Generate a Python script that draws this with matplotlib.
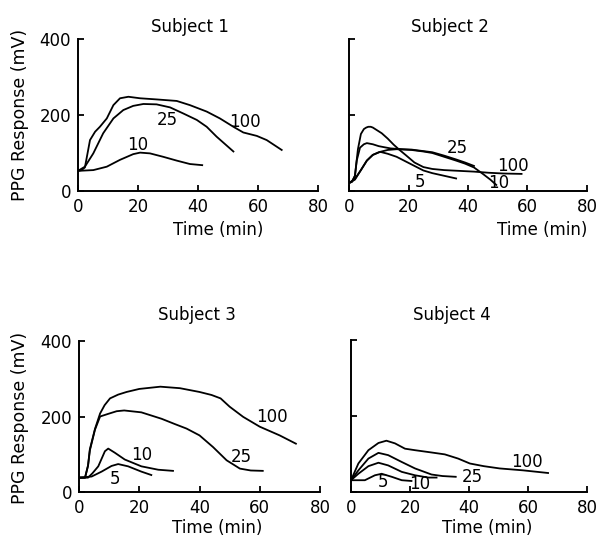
#!/usr/bin/env python3
# ******************************************************************************
# plot.py
# ******************************************************************************

# Purpose:
# PPG response against time for four subjects, one curve per dose.


# ******************************************************************************
# Import packages
# ******************************************************************************
import matplotlib
matplotlib.use('Agg')
import matplotlib.pyplot as plt


# ******************************************************************************
# Data
# ******************************************************************************
# ------------------------------------------------------------------------------
# Subject 1
# ------------------------------------------------------------------------------
s1_100_t = [0, 1.2, 2.3, 3.2, 4, 5.7, 7.3, 9.6, 11.8, 14, 16.8, 20.7, 26.2,
            32.9, 37.3, 42.9, 47.3, 51.8, 55.1, 59.6, 62.9, 67.9]
s1_100_v = [53, 55, 62, 100, 134, 156, 169, 191, 226, 244, 248, 244, 241,
            237, 226, 209, 191, 169, 154, 145, 134, 108]
s1_25_t = [0, 2.3, 5.1, 8.4, 11.8, 15.1, 18.4, 21.8, 26.2, 30.7, 35.1, 39.6,
           42.9, 46.2, 51.8]
s1_25_v = [53, 64, 99, 152, 191, 213, 224, 229, 228, 220, 204, 187, 169, 143,
           104]
s1_10_t = [0, 5.1, 9.6, 14, 18.4, 20.7, 24, 28.4, 32.9, 37.3, 41.4]
s1_10_v = [53, 55, 64, 82, 97, 101, 99, 90, 80, 71, 68]

# ------------------------------------------------------------------------------
# Subject 2
# ------------------------------------------------------------------------------
s2_100_t = [0, 1, 2, 3, 4, 5, 5.8, 6.5, 7.3, 8, 11, 13, 15, 17, 19, 22, 25,
            28, 32, 37, 42, 47, 52, 58]
s2_100_v = [21, 25, 40, 110, 150, 163, 167, 169, 169, 167, 152, 138, 122, 108,
            95, 75, 63, 58, 55, 53, 51, 48, 46, 45]
s2_25_t = [0, 1, 2, 2.6, 3.7, 5, 6, 8, 10, 14, 18, 21, 25, 28, 32, 36, 39, 42]
s2_25_v = [21, 24, 40, 80, 114, 123, 126, 123, 118, 112, 110, 109, 105, 102,
           93, 83, 75, 66]
s2_10_t = [0, 2, 4, 6, 8, 10, 13, 16, 21, 25, 28, 32, 36, 39, 42, 45, 47.5,
           49.5]
s2_10_v = [21, 30, 55, 80, 95, 102, 108, 110, 108, 104, 100, 90, 80, 72, 62, 45,
           30, 16]
s2_5_t = [0, 2, 4, 6, 8, 10.5, 13, 16, 19, 22, 25, 28, 32, 36]
s2_5_v = [21, 32, 55, 80, 95, 103, 98, 90, 78, 66, 54, 47, 40, 33]

# ------------------------------------------------------------------------------
# Subject 3
# ------------------------------------------------------------------------------
s3_100_t = [0, 2, 3, 3.6, 5.3, 7, 8.5, 10.3, 13, 15.8, 20, 27, 33.5, 40, 44,
            47, 50, 54.5, 60, 66.6, 72]
s3_100_v = [38, 38, 70, 113, 167, 208, 230, 248, 258, 265, 273, 279, 275, 265,
            257, 248, 226, 199, 173, 150, 128]
s3_25_t = [0, 2, 3, 3.6, 5.3, 7, 9.7, 12.5, 15, 20.7, 27.4, 31.8, 35.7, 40,
           44.5, 49, 53.4, 57, 61]
s3_25_v = [38, 38, 70, 110, 165, 200, 207, 214, 216, 211, 194, 180, 168, 150,
           119, 84, 62, 57, 56]
s3_10_t = [0, 3, 4.5, 6.4, 8.6, 9.7, 11.9, 15.2, 20.7, 26.3, 31.2]
s3_10_v = [38, 38, 50, 68, 108, 115, 104, 86, 68, 59, 56]
s3_5_t = [0, 4.2, 7.5, 10.8, 13, 16.3, 20.7, 24]
s3_5_v = [38, 41, 54, 69, 74, 68, 54, 45]

# ------------------------------------------------------------------------------
# Subject 4
# ------------------------------------------------------------------------------
s4_100_t = [0, 2.5, 5.9, 9.3, 12, 14.9, 18.3, 21.7, 27.3, 31.8, 36.3, 40.3, 45,
            50.4, 58.3, 66.8]
s4_100_v = [31, 75, 110, 129, 135, 128, 114, 110, 104, 99, 88, 75, 68, 62, 57,
            50]
s4_25_t = [0, 2.5, 5.9, 9.3, 12.6, 17.2, 21.7, 27.3, 31, 35.5]
s4_25_v = [31, 57, 88, 103, 97, 79, 62, 46, 42, 40]
s4_10_t = [0, 2.5, 5.9, 9.3, 12.6, 17.2, 21.7, 26.2, 29]
s4_10_v = [31, 48, 68, 77, 70, 53, 44, 38, 38]
s4_5_t = [0, 4.7, 8.1, 10.4, 13.8, 17.2, 20.5]
s4_5_v = [31, 31, 44, 48, 40, 31, 29]

titles = ['Subject 1', 'Subject 2', 'Subject 3', 'Subject 4']
x_ticks = [0, 20, 40, 60, 80]
y_ticks = [0, 200, 400]


# ******************************************************************************
# Curves and dose labels for each panel
# ******************************************************************************
panels = [
    [(s1_100_t, s1_100_v), (s1_25_t, s1_25_v), (s1_10_t, s1_10_v)],
    [(s2_100_t, s2_100_v), (s2_25_t, s2_25_v), (s2_10_t, s2_10_v),
     (s2_5_t, s2_5_v)],
    [(s3_100_t, s3_100_v), (s3_25_t, s3_25_v), (s3_10_t, s3_10_v),
     (s3_5_t, s3_5_v)],
    [(s4_100_t, s4_100_v), (s4_25_t, s4_25_v), (s4_10_t, s4_10_v),
     (s4_5_t, s4_5_v)],
]

# label text and where it sits (data units)
labels = [
    [('100', 55.7, 182), ('25', 29.7, 187), ('10', 20, 121)],
    [('100', 55, 67), ('25', 36.3, 113), ('10', 50.4, 20), ('5', 23.9, 23)],
    [('100', 63.9, 198), ('25', 54, 92), ('10', 20.8, 97), ('5', 11.9, 34)],
    [('100', 59.7, 78), ('25', 41, 39), ('10', 23.4, 20), ('5', 10.8, 26)],
]


# ******************************************************************************
# Figure
# ******************************************************************************
plt.rcParams['font.family'] = 'DejaVu Sans'
W, H = 602, 548
fig = plt.figure(figsize=(W / 100, H / 100), dpi=100)

# axes boxes in pixels: left, right, top (400), bottom (0)
boxes = [(78, 318, 39, 191), (349, 587, 39, 191),
         (79, 320, 341, 492), (351, 587, 340, 492)]
title_pos = [(190, 27), (450, 27), (197, 315), (452, 315)]
xlab_pos = [(218, 230), (542, 230), (217, 528), (487, 528)]
ylab_pos = [(20, 115), (20, 418)]

for i, (l, r, t, b) in enumerate(boxes):
    ax = fig.add_axes([l / W, 1 - b / H, (r - l) / W, (b - t) / H])
    for tt, vv in panels[i]:
        ax.plot(tt, vv, c='black', lw=1.3, solid_joinstyle='round')
    for txt, xt, yt in labels[i]:
        ax.text(xt, yt, txt, fontsize=12, ha='center', va='center')

    ax.set_xlim(0, 80)
    ax.set_ylim(0, 400)
    ax.spines['top'].set_visible(False)
    ax.spines['right'].set_visible(False)
    ax.spines['left'].set_linewidth(1.4)
    ax.spines['bottom'].set_linewidth(1.4)
    ax.set_xticks(x_ticks)
    ax.set_yticks(y_ticks)
    ax.tick_params(direction='in', length=4, width=1.3, labelsize=12,
                   pad=5)
    if i % 2 == 1:
        ax.set_yticklabels([])

    fig.text(title_pos[i][0] / W, 1 - title_pos[i][1] / H, titles[i],
             fontsize=12, ha='center', va='center')
    fig.text(xlab_pos[i][0] / W, 1 - xlab_pos[i][1] / H, 'Time (min)',
             fontsize=12, ha='center', va='center')

for x, y in ylab_pos:
    fig.text(x / W, 1 - y / H, 'PPG Response (mV)', fontsize=12.5,
             rotation=90, ha='center', va='center')

plt.savefig('out.png', dpi=100)
